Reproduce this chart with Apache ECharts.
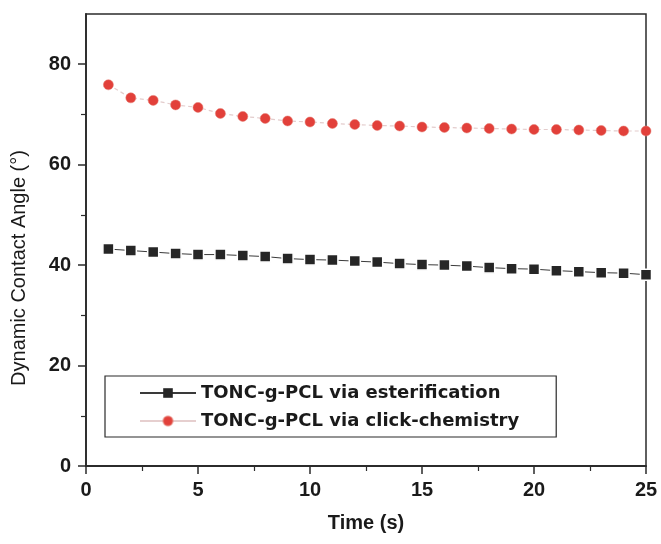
<!DOCTYPE html>
<html>
<head>
<meta charset="utf-8">
<script src="https://cdn.jsdelivr.net/npm/echarts@6/dist/echarts.min.js"></script>
<style>
  html, body { margin: 0; padding: 0; background: #fff; }
  #chart { width: 661px; height: 544px; }
</style>
</head>
<body>
<div id="chart"></div>
<script>
// Time points (s)
const times = [1,2,3,4,5,6,7,8,9,10,11,12,13,14,15,16,17,18,19,20,21,22,23,24,25];
// Dynamic contact angle (degrees)
const esterification = [43.2,42.9,42.6,42.3,42.1,42.1,41.9,41.7,41.3,41.1,41.0,40.8,40.6,40.3,40.1,40.0,39.8,39.5,39.3,39.2,38.9,38.7,38.5,38.4,38.1];
const clickChemistry = [75.9,73.3,72.8,71.9,71.4,70.2,69.6,69.2,68.7,68.5,68.2,68.0,67.8,67.7,67.5,67.4,67.3,67.2,67.1,67.0,67.0,66.9,66.8,66.7,66.7];
const seriesNames = ['TONC-g-PCL via esterification', 'TONC-g-PCL via click-chemistry'];
const yMajor = [0, 20, 40, 60, 80];
const yMinor = [10, 30, 50, 70];

const pairs = (ys) => times.map((t, i) => [t, ys[i]]);

const axisColor = '#2b2b2b';
const tickFont = {
  fontFamily: '"Liberation Sans Narrow", "Liberation Sans", Arial, sans-serif',
  fontWeight: 'bold',
  fontSize: 20,
  color: '#1a1a1a'
};

const chart = echarts.init(document.getElementById('chart'), null, { renderer: 'canvas' });
chart.setOption({
  backgroundColor: '#ffffff',
  animation: false,
  grid: {
    left: 86, right: 15, top: 14, bottom: 78,
    show: true, borderColor: axisColor, borderWidth: 1.5, backgroundColor: 'transparent'
  },
  legend: {
    orient: 'vertical',
    left: 105, top: 376,
    padding: [7, 37, 6, 34],
    itemWidth: 56, itemHeight: 12, itemGap: 8,
    borderColor: axisColor, borderWidth: 1.2, borderRadius: 0,
    backgroundColor: '#fff',
    textStyle: {
      fontFamily: '"DejaVu Sans", "Liberation Sans", Arial, sans-serif',
      fontWeight: 'bold', fontSize: 18, lineHeight: 20, color: '#1a1a1a'
    },
    data: [
      { name: seriesNames[0], itemStyle: { borderWidth: 0 } },
      { name: seriesNames[1], lineStyle: { type: 'solid', color: '#e6cfcf' } }
    ]
  },
  xAxis: {
    type: 'value', min: 0, max: 25, interval: 5,
    name: 'Time (s)', nameLocation: 'middle', nameGap: 47,
    nameTextStyle: {
      fontFamily: '"Liberation Sans Narrow", "Liberation Sans", Arial, sans-serif',
      fontWeight: 'bold', fontSize: 20, color: '#1a1a1a'
    },
    axisLine: { show: true, lineStyle: { color: axisColor, width: 1.8 } },
    axisTick: { show: true, inside: false, length: 8, lineStyle: { color: axisColor, width: 1.5 } },
    minorTick: { show: true, splitNumber: 2, length: 5, lineStyle: { color: axisColor, width: 1.2 } },
    axisLabel: Object.assign({ margin: 14 }, tickFont),
    splitLine: { show: false }
  },
  yAxis: [{
    type: 'value', min: 0, max: 90,
    name: 'Dynamic Contact Angle (°)', nameLocation: 'middle', nameGap: 57,
    nameTextStyle: {
      fontFamily: '"Liberation Sans", Arial, sans-serif',
      fontSize: 20, color: '#1a1a1a', padding: [0, 56, 0, 0]
    },
    axisLine: { show: true, lineStyle: { color: axisColor, width: 1.8 } },
    axisTick: { show: true, length: 8, customValues: yMajor, lineStyle: { color: axisColor, width: 1.5 } },
    axisLabel: Object.assign({ margin: 15, customValues: yMajor }, tickFont),
    splitLine: { show: false }
  }, {
    type: 'value', min: 0, max: 90, position: 'left',
    axisLine: { show: false },
    axisTick: { show: true, length: 5, customValues: yMinor, lineStyle: { color: axisColor, width: 1.2 } },
    axisLabel: { show: false },
    splitLine: { show: false }
  }],
  series: [{
    name: seriesNames[0],
    type: 'line',
    data: pairs(esterification),
    symbol: 'rect', symbolSize: 11,
    itemStyle: { color: '#262626', borderColor: '#ffffff', borderWidth: 1.5 },
    lineStyle: { color: '#3a3a3a', width: 1 },
    z: 3
  }, {
    name: seriesNames[1],
    type: 'line',
    data: pairs(clickChemistry),
    symbol: 'circle', symbolSize: 10,
    itemStyle: { color: '#e2403a', borderColor: 'rgba(230,120,110,0.5)', borderWidth: 1 },
    lineStyle: { color: '#e3cccc', width: 1.2, type: [4, 3] },
    z: 3
  }]
});
</script>
</body>
</html>
